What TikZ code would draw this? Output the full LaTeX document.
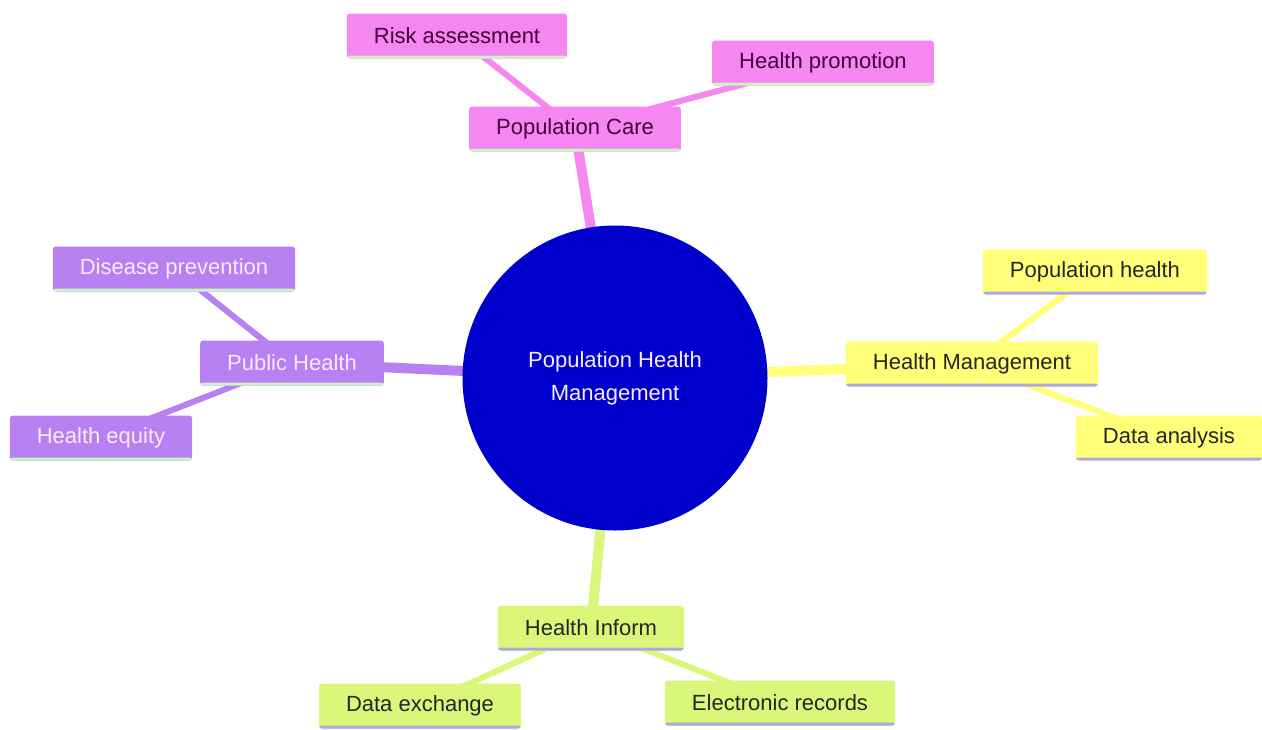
\documentclass[tikz,border=0pt]{standalone}
\usepackage{fontspec}
\setmainfont{Liberation Sans}
\usepackage{tikz}
\usetikzlibrary{backgrounds}

\definecolor{hubclr}{RGB}{0,0,204}
\definecolor{careclr}{RGB}{246,134,240}
\definecolor{publicclr}{RGB}{184,128,240}
\definecolor{mgmtclr}{RGB}{255,255,120}
\definecolor{infoclr}{RGB}{218,247,122}
\definecolor{caretxt}{RGB}{70,0,60}
\definecolor{publictxt}{RGB}{248,235,255}
\definecolor{greenline}{RGB}{205,245,195}
\definecolor{blueline}{RGB}{170,170,225}

\tikzset{
  topic/.style={rectangle, rounded corners=3pt, minimum height=45pt, inner xsep=27pt,
    font=\fontsize{22}{26}\selectfont},
  stripe/.style={path picture={\fill[#1] ([yshift=3pt]path picture bounding box.south west)
    rectangle (path picture bounding box.south east);}},
  care/.style={topic, fill=careclr, text=caretxt, stripe=greenline},
  public/.style={topic, fill=publicclr, text=publictxt, stripe=greenline},
  mgmt/.style={topic, fill=mgmtclr, text=black!85, stripe=blueline},
  info/.style={topic, fill=infoclr, text=black!85, stripe=blueline},
  branch/.style={line width=10pt},
  twig/.style={line width=6pt}
}

\begin{document}
\begin{tikzpicture}[x=1pt, y=-1pt]
  \useasboundingbox (0,0) rectangle (1262,729);

  \node[circle, fill=hubclr, minimum size=305pt, text=publictxt, align=center,
        font=\fontsize{22}{33}\selectfont] (hub) at (615,378) {Population Health\\Management};

  \node[care] (care) at (575,129) {Population Care};
  \node[care] (risk) at (457,36) {Risk assessment};
  \node[care] (promo) at (823,63) {Health promotion};

  \node[public] (public) at (292,363) {Public Health};
  \node[public] (prevent) at (174,269) {Disease prevention};
  \node[public] (equity) at (101,438) {Health equity};

  \node[mgmt] (mgmt) at (972,364) {Health Management};
  \node[mgmt] (pophealth) at (1095,272) {Population health};
  \node[mgmt] (analysis) at (1169,438) {Data analysis};

  \node[info] (inform) at (591,628) {Health Inform};
  \node[info] (exchange) at (420,706) {Data exchange};
  \node[info] (records) at (780,703) {Electronic records};

  \begin{scope}[on background layer]
    \draw[branch, careclr] (hub.center) -- (care.center);
    \draw[branch, publicclr] (hub.center) -- (public.center);
    \draw[branch, mgmtclr] (hub.center) -- (mgmt.center);
    \draw[branch, infoclr] (hub.center) -- (inform.center);

    \draw[twig, careclr] (care.center) -- (risk.center);
    \draw[twig, careclr] (care.center) -- (promo.center);
    \draw[twig, publicclr] (public.center) -- (prevent.center);
    \draw[twig, publicclr] (public.center) -- (equity.center);
    \draw[twig, mgmtclr] (mgmt.center) -- (pophealth.center);
    \draw[twig, mgmtclr] (mgmt.center) -- (analysis.center);
    \draw[twig, infoclr] (inform.center) -- (exchange.center);
    \draw[twig, infoclr] (inform.center) -- (records.center);
  \end{scope}
\end{tikzpicture}
\end{document}
